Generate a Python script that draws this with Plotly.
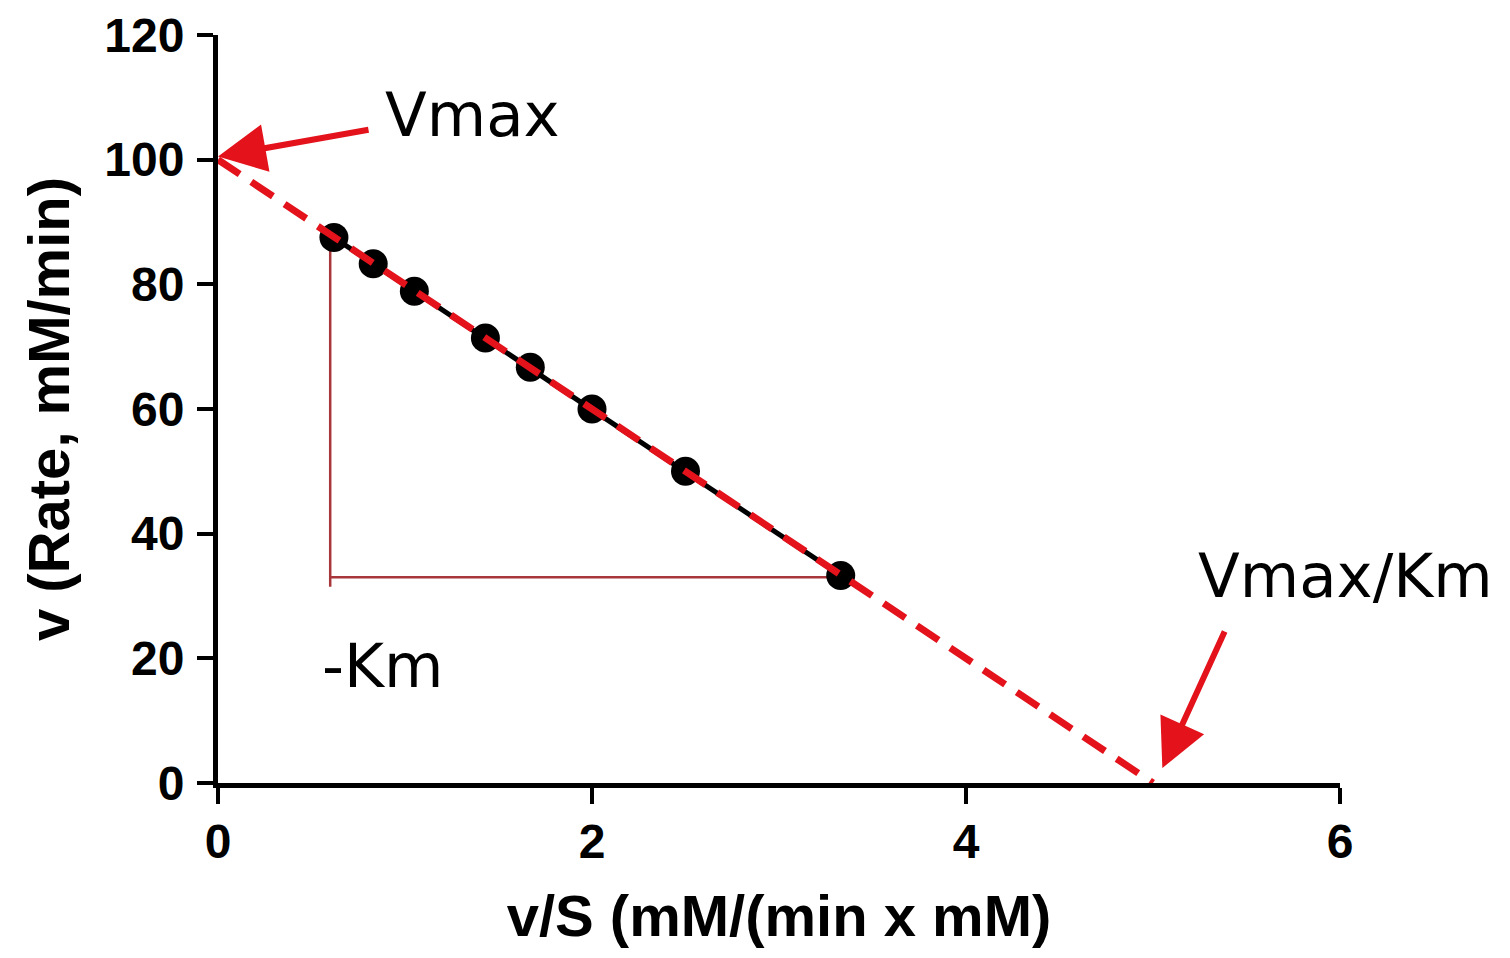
import plotly.graph_objects as go

# Data (Eadie-Hofstee plot)
v_over_s = [0.62, 0.83, 1.05, 1.43, 1.67, 2.0, 2.5, 3.33]
rate = [87.5, 83.3, 78.9, 71.4, 66.7, 60.0, 50.0, 33.3]

fit_x = [0, 5]        # Vmax/Km intercept at 5
fit_y = [100, 0]      # Vmax intercept at 100

tri_vert_x = [0.6, 0.6]
tri_vert_y = [87.5, 31.5]
tri_horiz_x = [0.6, 3.3]
tri_horiz_y = [33.0, 33.0]

x_ticks = [0, 2, 4, 6]
y_ticks = [0, 20, 40, 60, 80, 100, 120]

RED = "#e3121b"
TRI = "#a8373c"
TICKFONT = dict(family="Liberation Sans, Arial, sans-serif", size=48, color="black", weight="bold")
TITLEFONT = dict(family="Liberation Sans, Arial, sans-serif", size=58, color="black", weight="bold")
ANNFONT = dict(family="DejaVu Sans, Verdana, sans-serif", size=61, color="black")

fig = go.Figure()

fig.add_trace(go.Scatter(x=tri_vert_x, y=tri_vert_y, mode="lines",
                         line=dict(color=TRI, width=2.5), showlegend=False, hoverinfo="skip"))
fig.add_trace(go.Scatter(x=tri_horiz_x, y=tri_horiz_y, mode="lines",
                         line=dict(color=TRI, width=2.5), showlegend=False, hoverinfo="skip"))
fig.add_trace(go.Scatter(x=v_over_s, y=rate, mode="lines+markers",
                         line=dict(color="black", width=5),
                         marker=dict(color="black", size=29),
                         showlegend=False, cliponaxis=False))
fig.add_trace(go.Scatter(x=fit_x, y=fit_y, mode="lines",
                         line=dict(color=RED, width=7, dash="26px,14px"),
                         showlegend=False, cliponaxis=False))

fig.update_layout(
    width=1510, height=958, autosize=False,
    margin=dict(l=210, r=178, t=27, b=183),
    paper_bgcolor="white", plot_bgcolor="white",
    xaxis=dict(range=[0, 6], tickvals=x_ticks, showgrid=False, zeroline=False,
               showline=True, linecolor="black", linewidth=5, automargin=False,
               ticks="outside", ticklen=16, tickwidth=4, tickcolor="black",
               tickfont=TICKFONT, ticklabelstandoff=-4, ticklabeloverflow="allow",
               title=dict(text="v/S (mM/(min x mM)", font=TITLEFONT, standoff=30)),
    yaxis=dict(range=[0, 120], tickvals=y_ticks, showgrid=False, zeroline=False,
               showline=True, linecolor="black", linewidth=5, automargin=False,
               ticks="outside", ticklen=16, tickwidth=4, tickcolor="black",
               tickfont=TICKFONT, ticklabelstandoff=3, ticklabeloverflow="allow",
               title=dict(text="v (Rate, mM/min)", font=TITLEFONT, standoff=18)),
    annotations=[
        dict(x=0, y=100.5, xref="x", yref="y", text="", showarrow=True,
             ax=152, ay=-27, axref="pixel", ayref="pixel",
             arrowhead=2, arrowsize=1.6, arrowwidth=6, arrowcolor=RED),
        dict(x=5.05, y=2.4, xref="x", yref="y", text="", showarrow=True,
             ax=63, ay=-138, arrowhead=2, arrowsize=1.6, arrowwidth=6, arrowcolor=RED),
        dict(x=1.36, y=107.2, xref="x", yref="y", text="Vmax", showarrow=False, font=ANNFONT),
        dict(x=1.005, y=0.278, xref="paper", yref="paper", text="Vmax/Km",
             xanchor="center", yanchor="middle", showarrow=False, font=ANNFONT),
        dict(x=0.877, y=18.9, xref="x", yref="y", text="-Km", showarrow=False, font=ANNFONT),
    ],
)

fig.write_html("out.html")
